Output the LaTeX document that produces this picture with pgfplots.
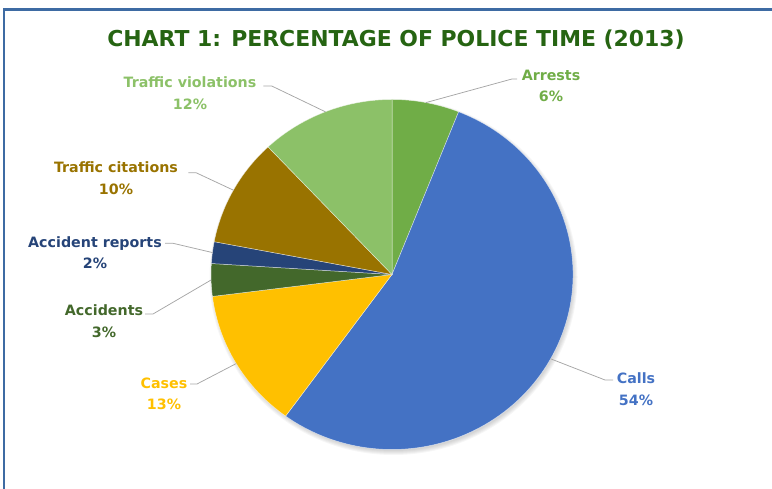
\documentclass[border=0pt]{standalone}
\usepackage{pgfplots}
\usepackage{pgfplotstable}
\pgfplotsset{compat=1.18}
\usepackage{fontspec}
\setmainfont{DejaVu Sans}

\definecolor{pie0}{HTML}{70AD47}
\definecolor{pie1}{HTML}{4472C4}
\definecolor{pie2}{HTML}{FFC000}
\definecolor{pie3}{HTML}{43682B}
\definecolor{pie4}{HTML}{264478}
\definecolor{pie5}{HTML}{997300}
\definecolor{pie6}{HTML}{8CC168}
\definecolor{titlegreen}{RGB}{38,100,18}
\definecolor{framecol}{HTML}{3E6BA3}
\definecolor{leadcol}{HTML}{A6A6A6}

% share of police time, clockwise from 12 o'clock
% lx ly: label centre, ex ey: leader elbow, tx: leader end (bp from pie centre)
\pgfplotstableread{
name                 value   lx      ly     ex      ey     tx
Arrests              6       159     188.5  120     195.5  125
Calls                54      244    -114.5  213    -105.5  221
Cases                13     -228    -119.5 -195    -109.5 -202
Accidents            3      -288     -46.5 -239     -39.5 -247
{Accident reports}   2      -297      22   -219      31.2 -227
{Traffic citations}  10     -276      96.5 -196     101.8 -203.7
{Traffic violations} 12     -202     181.2 -120.3   188.5 -128.7
}\piedata

\begin{document}
\begin{tikzpicture}[x=1bp,y=1bp]
\useasboundingbox (0,0) rectangle (772,489);
\draw[framecol, line width=2.5bp] (3.9,0) -- (3.9,479.7) -- (772,479.7);
\node[anchor=base, text=titlegreen, font=\bfseries\fontsize{22}{24}\selectfont]
  at (396,442.3) {CHART 1: PERCENTAGE OF POLICE TIME (2013)};

\begin{axis}[
  at={(392bp,214.5bp)}, anchor=origin,
  x=181bp, y=175bp,
  xmin=-1, xmax=1, ymin=-1, ymax=1,
  hide axis, clip=false,
]
\pgfplotsextra{
  % soft shadow, mostly below and to the right
  \foreach \k in {4,3,2,1,0}{
    \fill[black, opacity=0.035] ([xshift=1.5bp,yshift=-2.5bp]axis cs:0,0)
      ellipse [x radius=180bp+\k bp, y radius=174bp+\k bp];
  }
  \def\cum{0}
  \pgfplotsforeachungrouped \i in {0,...,6}{%
    \pgfplotstablegetelem{\i}{value}\of\piedata \let\v\pgfplotsretval
    \pgfplotstablegetelem{\i}{name}\of\piedata \let\nm\pgfplotsretval
    \pgfplotstablegetelem{\i}{lx}\of\piedata \let\lx\pgfplotsretval
    \pgfplotstablegetelem{\i}{ly}\of\piedata \let\ly\pgfplotsretval
    \pgfplotstablegetelem{\i}{ex}\of\piedata \let\ex\pgfplotsretval
    \pgfplotstablegetelem{\i}{ey}\of\piedata \let\ey\pgfplotsretval
    \pgfplotstablegetelem{\i}{tx}\of\piedata \let\tx\pgfplotsretval
    \pgfmathsetmacro\a{90-3.6*\cum}
    \pgfmathsetmacro\b{90-3.6*(\cum+\v)}
    \pgfmathsetmacro\m{(\a+\b)/2}
    \fill[pie\i, draw=white, draw opacity=0.6, line width=0.5bp] (axis cs:0,0)
      -- (axis cs:{cos(\a)},{sin(\a)})
      arc[start angle=\a, end angle=\b, x radius=181bp, y radius=175bp] -- cycle;
    \draw[leadcol, line width=0.75bp] (axis cs:{cos(\m)},{sin(\m)})
      -- ([xshift=\ex bp, yshift=\ey bp]axis cs:0,0)
      -- ([xshift=\tx bp, yshift=\ey bp]axis cs:0,0);
    \node[text=pie\i, align=center, font=\bfseries\fontsize{14.3}{21.5}\selectfont]
      at ([xshift=\lx bp, yshift=\ly bp]axis cs:0,0) {\nm\\\v\%};
    \pgfmathsetmacro\cum{\cum+\v}
  }
}
\end{axis}
\end{tikzpicture}
\end{document}
